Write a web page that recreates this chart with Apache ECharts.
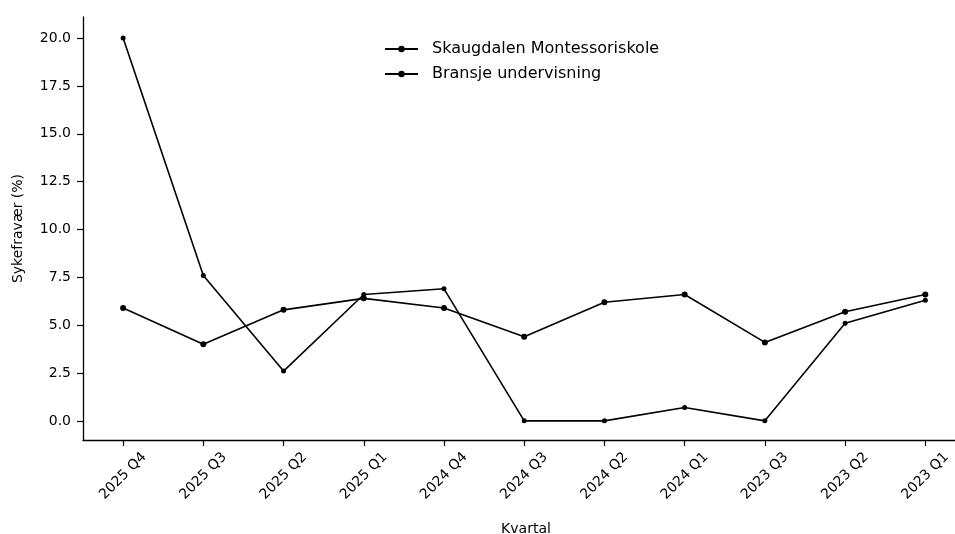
<!DOCTYPE html>
<html><head><meta charset="utf-8">
<script src="https://cdn.jsdelivr.net/npm/echarts@6/dist/echarts.min.js"></script>
<style>html,body{margin:0;padding:0;background:#fff}#c{width:955px;height:534px}</style>
</head><body><div id="c"></div>
<script>
const categories = ['2025 Q4','2025 Q3','2025 Q2','2025 Q1','2024 Q4','2024 Q3','2024 Q2','2024 Q1','2023 Q3','2023 Q2','2023 Q1'];
const skaugdalen = [20.0, 7.6, 2.6, 6.6, 6.9, 0.0, 0.0, 0.7, 0.0, 5.1, 6.3];
const bransje = [5.9, 4.0, 5.8, 6.4, 5.9, 4.4, 6.2, 6.6, 4.1, 5.7, 6.6];
const yTicks = [0, 2.5, 5, 7.5, 10, 12.5, 15, 17.5, 20];
const xTicks = categories.map((c, i) => i);

const font = 'DejaVu Sans';
const chart = echarts.init(document.getElementById('c'));
chart.setOption({
  animation: false,
  backgroundColor: '#fff',
  textStyle: {fontFamily: font, color: '#000'},
  grid: {left: 83, top: 17, right: 0, height: 423, containLabel: false, outerBoundsMode: 'none'},
  legend: {
    orient: 'vertical', left: 379, top: 36, itemGap: 9, itemWidth: 33, itemHeight: 8,
    textStyle: {fontFamily: font, fontSize: 16, color: '#000', padding: [0, 0, 0, 9]},
    data: ['Skaugdalen Montessoriskole', 'Bransje undervisning']
  },
  xAxis: {
    type: 'value', min: -0.5, max: 10.37,
    name: 'Kvartal', nameLocation: 'middle', nameGap: 82,
    nameTextStyle: {fontFamily: font, fontSize: 14, color: '#000', padding: [0, 0, 0, 14]},
    axisLine: {show: true, onZero: false, lineStyle: {color: '#000', width: 1.3}},
    axisTick: {show: true, length: 6, customValues: xTicks, lineStyle: {color: '#000', width: 1.2}},
    axisLabel: {rotate: 45, align: 'center', verticalAlign: 'middle', fontSize: 14, color: '#000', margin: 36, fontFamily: font,
      customValues: xTicks, formatter: v => categories[Math.round(v)]},
    splitLine: {show: false}
  },
  yAxis: {
    type: 'value', min: -1, max: 21.1,
    name: 'Sykefravær (%)', nameLocation: 'middle', nameGap: 58,
    nameTextStyle: {fontFamily: font, fontSize: 14, color: '#000'},
    axisLine: {show: true, onZero: false, lineStyle: {color: '#000', width: 1.3}},
    axisTick: {show: true, length: 6, customValues: yTicks, lineStyle: {color: '#000', width: 1.2}},
    axisLabel: {fontSize: 14, color: '#000', margin: 12, fontFamily: font, customValues: yTicks,
      formatter: v => v.toFixed(1)},
    splitLine: {show: false}
  },
  series: [
    {name: 'Skaugdalen Montessoriskole', type: 'line', data: skaugdalen.map((v, i) => [i, v]),
     symbol: 'circle', symbolSize: 5, itemStyle: {color: '#000'},
     lineStyle: {color: '#000', width: 1.6}},
    {name: 'Bransje undervisning', type: 'line', data: bransje.map((v, i) => [i, v]),
     symbol: 'circle', symbolSize: 6, itemStyle: {color: '#000'},
     lineStyle: {color: '#000', width: 1.6}}
  ]
});
</script></body></html>
